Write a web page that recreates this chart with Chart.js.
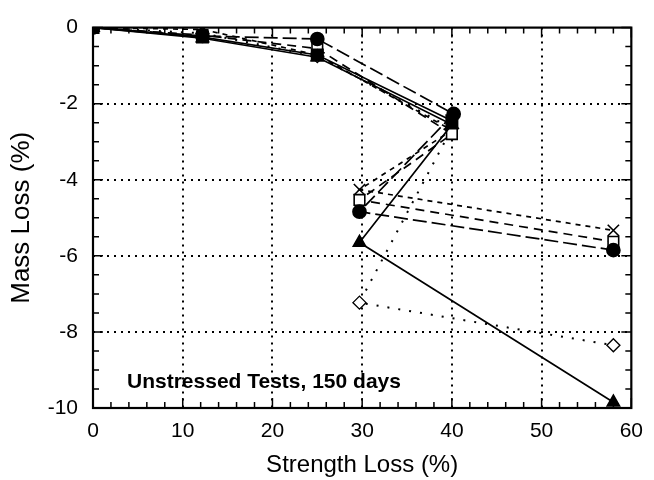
<!DOCTYPE html>
<html>
<head>
<meta charset="utf-8">
<script src="https://cdn.jsdelivr.net/npm/chart.js@4"></script>
<style>
    html, body { margin: 0; padding: 0; background: #fff; }
    #wrap { width: 654px; height: 480px; }
</style>
</head>
<body>
<div id="wrap"><canvas id="massChart" width="654" height="480"></canvas></div>
<script>
// Strength loss (x) for each series, in data order (line goes back from 40 to 30)
let strengthTri = [0, 12.2, 25, 40, 29.7, 58];
let massTri = [0, -0.28, -0.78, -2.55, -5.65, -9.85];

let strengthSq = [0, 12.2, 25, 40];
let massSq = [0, -0.25, -0.72, -2.45];

let strengthCircle = [0, 12.2, 25, 40.2, 29.7, 58];
let massCircle = [0, -0.22, -0.3, -2.27, -4.84, -5.85];

let strengthOpenSq = [0, 12.2, 25, 40, 29.7, 58];
let massOpenSq = [0, -0.2, -0.55, -2.8, -4.53, -5.63];

let strengthCross = [0, 12.2, 25, 40, 29.7, 58];
let massCross = [0, -0.05, -0.72, -2.7, -4.26, -5.33];

let strengthDiamond = [0, 12.2, 25, 40, 29.7, 58];
let massDiamond = [0, -0.15, -0.75, -2.65, -7.23, -8.35];

let xTicks = [0, 10, 20, 30, 40, 50, 60];
let yTicks = [0, -2, -4, -6, -8, -10];

function pts(xs, ys) {
    return xs.map((x, i) => ({ x: x, y: ys[i] }));
}

// Inward ticks, frame and the note text
const framePlugin = {
    id: 'frame',
    afterDraw(chart) {
        let ctx = chart.ctx;
        let a = chart.chartArea;
        let xs = chart.scales.x;
        let ys = chart.scales.y;
        ctx.save();
        ctx.strokeStyle = '#000';
        ctx.lineWidth = 2.2;
        ctx.strokeRect(a.left, a.top, a.right - a.left, a.bottom - a.top);
        ctx.lineWidth = 1.5;
        ctx.beginPath();
        for (let v = 0; v <= 60; v += 2) {
            let px = xs.getPixelForValue(v);
            let len = v % 10 === 0 ? 10 : 6;
            ctx.moveTo(px, a.bottom); ctx.lineTo(px, a.bottom - len);
            ctx.moveTo(px, a.top); ctx.lineTo(px, a.top + len);
        }
        for (let v = 0; v >= -10; v -= 0.5) {
            let py = ys.getPixelForValue(v);
            let len = v % 2 === 0 ? 10 : 6;
            ctx.moveTo(a.left, py); ctx.lineTo(a.left + len, py);
            ctx.moveTo(a.right, py); ctx.lineTo(a.right - len, py);
        }
        ctx.stroke();
        ctx.fillStyle = '#000';
        ctx.font = 'bold 21px "Liberation Sans", Arial, sans-serif';
        ctx.textBaseline = 'alphabetic';
        ctx.fillText('Unstressed Tests, 150 days', 127, 388);
        ctx.restore();
    }
};

let common = { borderColor: '#000', borderWidth: 1.7, pointBorderColor: '#000', tension: 0 };

let massChart = new Chart(document.getElementById('massChart').getContext('2d'), {
    type: 'line',
    data: {
        datasets: [{
            ...common,
            label: 'Triangle',
            data: pts(strengthTri, massTri),
            pointStyle: 'triangle',
            pointRadius: 7,
            pointBackgroundColor: '#000',
        }, {
            ...common,
            label: 'Square',
            data: pts(strengthSq, massSq),
            pointStyle: 'rect',
            pointRadius: 8,
            pointBackgroundColor: '#000',
        }, {
            ...common,
            label: 'Circle',
            data: pts(strengthCircle, massCircle),
            borderDash: [14, 5],
            pointStyle: 'circle',
            pointRadius: 6.5,
            pointBackgroundColor: '#000',
        }, {
            ...common,
            label: 'Open square',
            data: pts(strengthOpenSq, massOpenSq),
            borderDash: [9, 6],
            pointStyle: 'rect',
            pointRadius: 7.5,
            pointBackgroundColor: '#fff',
            pointBorderWidth: 1.6,
        }, {
            ...common,
            label: 'Cross',
            data: pts(strengthCross, massCross),
            borderDash: [5, 5],
            pointStyle: 'crossRot',
            pointRadius: 8,
            pointBorderWidth: 1.6,
        }, {
            ...common,
            label: 'Diamond',
            data: pts(strengthDiamond, massDiamond),
            borderDash: [2, 9],
            borderWidth: 2,
            pointStyle: 'rectRot',
            pointRadius: 6.5,
            pointBackgroundColor: '#fff',
            pointBorderWidth: 1.4,
        }]
    },
    options: {
        responsive: false,
        animation: false,
        layout: { padding: { top: 22, right: 22, left: 0, bottom: 0 } },
        plugins: {
            legend: { display: false },
            tooltip: { enabled: false }
        },
        scales: {
            x: {
                type: 'linear',
                min: 0,
                max: 60,
                afterBuildTicks: axis => { axis.ticks = xTicks.map(v => ({ value: v })); },
                afterFit: axis => { axis.height = 72; },
                border: { display: false, dash: [2, 5] },
                grid: {
                    color: ctx => (ctx.tick && (ctx.tick.value === 0 || ctx.tick.value === 60)) ? 'rgba(0,0,0,0)' : '#000',
                    lineWidth: 2,
                    drawTicks: false,
                },
                ticks: { color: '#000', padding: 11, font: { family: '"Liberation Sans", Arial', size: 21 } },
                title: { display: true, text: 'Strength Loss (%)', color: '#000', padding: { top: 0, bottom: 0 }, font: { family: '"Liberation Sans", Arial', size: 24 } }
            },
            y: {
                min: -10,
                max: 0,
                afterBuildTicks: axis => { axis.ticks = yTicks.map(v => ({ value: v })); },
                afterFit: axis => { axis.width = 93; },
                border: { display: false, dash: [2, 5] },
                grid: {
                    color: ctx => (ctx.tick && (ctx.tick.value === 0 || ctx.tick.value === -10)) ? 'rgba(0,0,0,0)' : '#000',
                    lineWidth: 2,
                    drawTicks: false,
                },
                ticks: { color: '#000', padding: 15, font: { family: '"Liberation Sans", Arial', size: 21 } },
                title: { display: true, text: 'Mass Loss (%)', color: '#000', padding: { top: 6, bottom: 0 }, font: { family: '"Liberation Sans", Arial', size: 26 } }
            }
        }
    },
    plugins: [framePlugin]
});
</script>
</body>
</html>
